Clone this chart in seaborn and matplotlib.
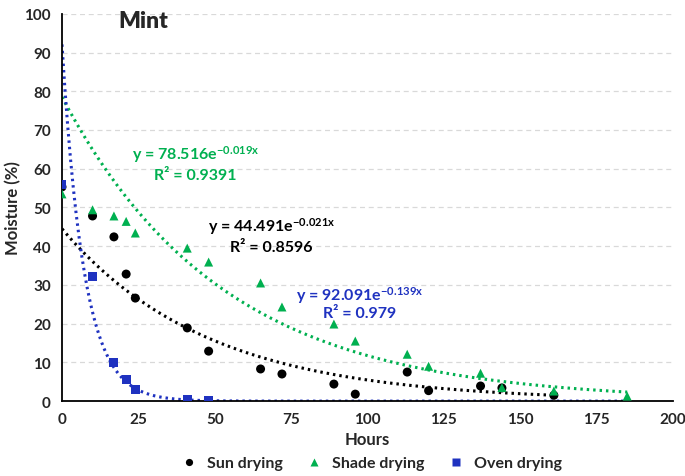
import numpy as np
import pandas as pd
import matplotlib
matplotlib.use("Agg")
import matplotlib.pyplot as plt
import seaborn as sns

# ---- data ----
sun_hours = [0, 10, 17, 21, 24, 41, 48, 65, 72, 89, 96, 113, 120, 137, 144, 161]
sun_moist = [55.3, 47.8, 42.4, 32.8, 26.6, 18.9, 12.9, 8.3, 7.0, 4.4, 1.8, 7.5, 2.7, 3.9, 3.4, 1.5]

shade_hours = [0, 10, 17, 21, 24, 41, 48, 65, 72, 89, 96, 113, 120, 137, 144, 161, 185]
shade_moist = [53.5, 49.4, 47.8, 46.4, 43.4, 39.5, 35.9, 30.5, 24.3, 19.9, 15.5, 12.1, 9.0, 7.2, 3.5, 2.6, 1.3]

oven_hours = [0, 10, 17, 21, 24, 41, 48]
oven_moist = [55.8, 32.3, 10.0, 5.7, 3.1, 0.4, 0.1]

series_names = ["Sun drying", "Shade drying", "Oven drying"]
fit_a = [44.491, 78.516, 92.091]
fit_b = [-0.021, -0.019, -0.139]
fit_r2 = ["0.8596", "0.9391", "0.979"]
fit_end = [161, 185, 185]

x_ticks = [0, 25, 50, 75, 100, 125, 150, 175, 200]
y_ticks = [0, 10, 20, 30, 40, 50, 60, 70, 80, 90, 100]

colors = {"Sun drying": "#000000", "Shade drying": "#00B050", "Oven drying": "#1F32C0"}
markers = {"Sun drying": "o", "Shade drying": "^", "Oven drying": "s"}

df = pd.concat([
    pd.DataFrame({"Hours": sun_hours, "Moisture": sun_moist, "Series": "Sun drying"}),
    pd.DataFrame({"Hours": shade_hours, "Moisture": shade_moist, "Series": "Shade drying"}),
    pd.DataFrame({"Hours": oven_hours, "Moisture": oven_moist, "Series": "Oven drying"}),
], ignore_index=True)

sns.set_theme(style="white")
FONT = ["Lato", "DejaVu Sans"]
plt.rcParams["font.family"] = FONT
plt.rcParams["font.weight"] = "bold"
plt.rcParams["mathtext.fontset"] = "custom"
plt.rcParams["mathtext.rm"] = "Lato:bold"
plt.rcParams["mathtext.bf"] = "Lato:bold"
plt.rcParams["mathtext.default"] = "bf"

fig = plt.figure(figsize=(6.85, 4.77), dpi=100)
ax = fig.add_axes([0.0905, 0.157, 0.892, 0.812])

# trendlines
for name, a, b, xe in zip(series_names, fit_a, fit_b, fit_end):
    xs = np.linspace(0, xe, 400)
    tdf = pd.DataFrame({"Hours": xs, "Moisture": a * np.exp(b * xs)})
    sns.lineplot(data=tdf, x="Hours", y="Moisture", ax=ax, color=colors[name],
                 linewidth=2.2, linestyle=(0, (0.8, 1.3)), legend=False, zorder=2)

sns.scatterplot(data=df, x="Hours", y="Moisture", hue="Series", style="Series",
                palette=colors, markers=markers, s=42, edgecolor="none",
                ax=ax, zorder=3, legend=True)

ax.set_xlim(0, 200)
ax.set_ylim(0, 100)
ax.set_xticks(x_ticks)
ax.set_yticks(y_ticks)
ax.set_xticklabels([str(t) for t in x_ticks], fontsize=11, fontweight="bold")
ax.set_yticklabels([str(t) for t in y_ticks], fontsize=11, fontweight="bold")
ax.tick_params(axis="both", length=0, pad=8)
ax.set_xlabel("Hours", fontsize=12, fontweight="bold")
ax.set_ylabel("Moisture (%)", fontsize=12, fontweight="bold")
ax.xaxis.set_label_coords(0.5, -0.078)
ax.yaxis.set_label_coords(-0.066, 0.5)

ax.yaxis.grid(True, color="#d9d9d9", linestyle=(0, (4, 3)), linewidth=0.9)
ax.xaxis.grid(False)
for s in ["top", "right"]:
    ax.spines[s].set_visible(False)
for s in ["left", "bottom"]:
    ax.spines[s].set_color("black")
    ax.spines[s].set_linewidth(1.3)

ax.text(0.093, 0.982, "Mint", transform=ax.transAxes, fontsize=16.5, fontweight="heavy",
        ha="left", va="center")

# equations (data-coordinate anchors: x, y of equation line, y of R² line)
eq_pos = {"Sun drying": (68.5, 45.2, 39.8),
          "Shade drying": (43.6, 63.8, 58.4),
          "Oven drying": (97.4, 27.6, 22.7)}
for name, a, b, r2 in zip(series_names, fit_a, fit_b, fit_r2):
    xc, y1, y2 = eq_pos[name]
    ax.text(xc, y1, f"y = {a:.3f}e$^{{{b:.3f}x}}$".replace("-", "{-}"), color=colors[name],
            fontsize=11.5, fontweight="bold", ha="center", va="center")
    ax.text(xc, y2, f"R² = {r2}", color=colors[name],
            fontsize=11.5, fontweight="bold", ha="center", va="center")

leg = ax.legend(loc="center", bbox_to_anchor=(0.5, -0.16), ncol=3, frameon=False,
                fontsize=11.5, handletextpad=0.1, columnspacing=1.0, markerscale=0.8)
for t in leg.get_texts():
    t.set_fontweight("bold")

fig.savefig("out.png", dpi=100)
